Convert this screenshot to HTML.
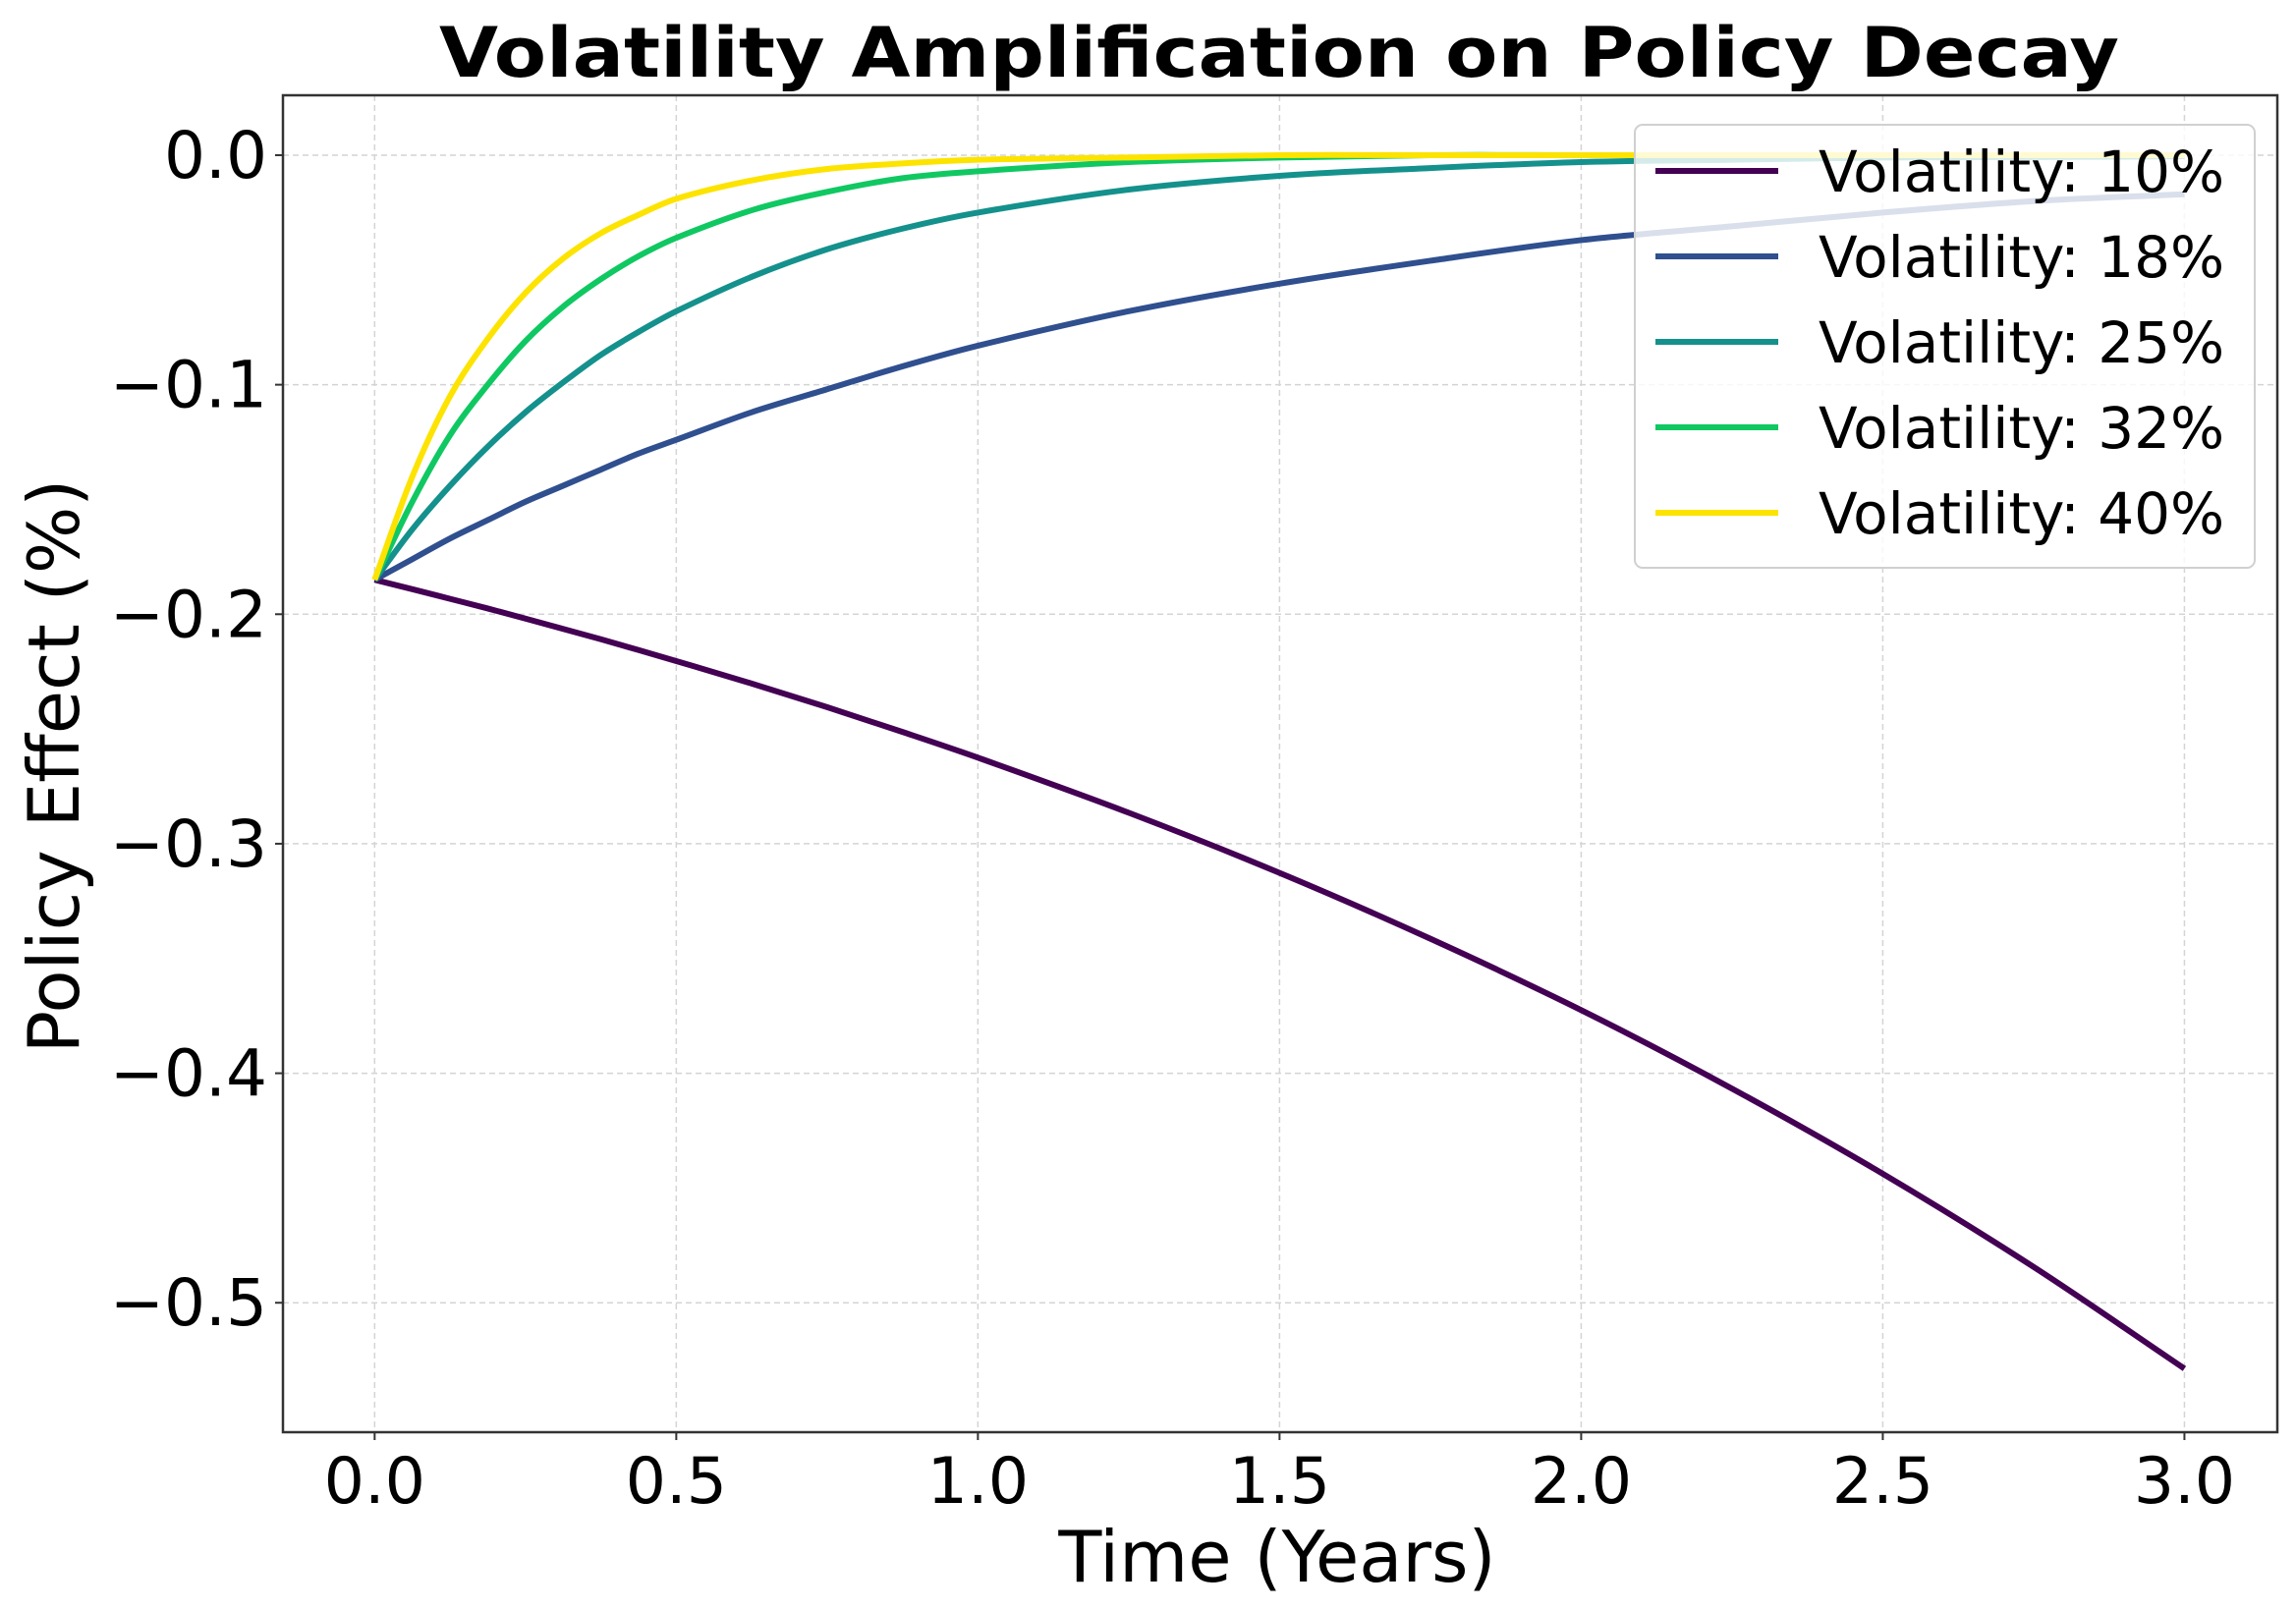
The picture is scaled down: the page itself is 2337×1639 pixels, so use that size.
<!DOCTYPE html>
<html><head><meta charset="utf-8"><style>
html,body{margin:0;padding:0;background:#fff;}
svg{display:block;font-family:"DejaVu Sans","Liberation Sans",sans-serif;}
</style></head><body>
<svg id="chart" width="2337" height="1639" viewBox="0 0 2337 1639" xmlns="http://www.w3.org/2000/svg">
<rect width="2337" height="1639" fill="#fff"/>
<text x="1302" y="78" text-anchor="middle" font-size="70" font-weight="bold" textLength="1710" lengthAdjust="spacingAndGlyphs">Volatility Amplification on Policy Decay</text>
<g id="grid"></g>
<g id="series"></g>
<rect x="288" y="97" width="2030" height="1361" fill="none" stroke="#333" stroke-width="2.5"/>
<g id="ticks"></g>
<text transform="translate(80,780) rotate(-90)" text-anchor="middle" font-size="72">Policy Effect (%)</text>
<text x="1300" y="1610" text-anchor="middle" font-size="72">Time (Years)</text>
<g id="legend"></g>
</svg>
<script>
const times = [0,0.0625,0.125,0.1875,0.25,0.3125,0.375,0.4375,0.5,0.625,0.75,0.875,1,1.25,1.5,1.75,2,2.25,2.5,2.75,3];
const vol10 = [-0.185,-0.1891,-0.1933,-0.1975,-0.2019,-0.2064,-0.2109,-0.2156,-0.2204,-0.2302,-0.2405,-0.2513,-0.2625,-0.2865,-0.3127,-0.3414,-0.3725,-0.4067,-0.4438,-0.4844,-0.5287];
const vol18 = [-0.185,-0.176,-0.167,-0.159,-0.151,-0.144,-0.137,-0.130,-0.124,-0.112,-0.102,-0.092,-0.083,-0.068,-0.056,-0.046,-0.037,-0.031,-0.025,-0.020,-0.017];
const vol25 = [-0.185,-0.163,-0.144,-0.127,-0.112,-0.099,-0.087,-0.077,-0.068,-0.053,-0.041,-0.032,-0.025,-0.015,-0.009,-0.0056,-0.003,-0.002,-0.001,-0.0008,-0.0005];
const vol32 = [-0.185,-0.151,-0.122,-0.100,-0.081,-0.066,-0.054,-0.044,-0.036,-0.024,-0.016,-0.010,-0.007,-0.003,-0.001,0,0,0,0,0,0];
const vol40 = [-0.185,-0.140,-0.105,-0.080,-0.060,-0.045,-0.034,-0.026,-0.019,-0.011,-0.006,-0.0036,-0.002,-0.001,0,0,0,0,0,0,0];
const seriesLabels = ["Volatility: 10%","Volatility: 18%","Volatility: 25%","Volatility: 32%","Volatility: 40%"];
const xTicks = [0,0.5,1,1.5,2,2.5,3];
const xTickLabels = ["0.0","0.5","1.0","1.5","2.0","2.5","3.0"];
const yTicks = [0,-0.1,-0.2,-0.3,-0.4,-0.5];
const yTickLabels = ["0.0","\u22120.1","\u22120.2","\u22120.3","\u22120.4","\u22120.5"];

const colors = ["#440154","#2f4f8f","#14918c","#10c862","#fde300"];
const NS="http://www.w3.org/2000/svg";
const X0=288,X1=2318,Y0=97,Y1=1458;
const xMin=-0.152,xMax=3.154,yMin=-0.5564,yMax=0.0261;
const xs=v=>X0+(v-xMin)/(xMax-xMin)*(X1-X0);
const ys=v=>Y1-(v-yMin)/(yMax-yMin)*(Y1-Y0);
function mk(tag,attrs,parent){const e=document.createElementNS(NS,tag);for(const k in attrs)e.setAttribute(k,attrs[k]);parent.appendChild(e);return e;}
const grid=document.getElementById('grid'),ticks=document.getElementById('ticks'),ser=document.getElementById('series'),leg=document.getElementById('legend');
xTicks.forEach((t,i)=>{
  const x=xs(t);
  const g=mk('line',{x1:x,x2:x,y1:Y0,y2:Y1,stroke:'#d4d4d4','stroke-width':1.5,'stroke-dasharray':'6,4'},grid);
  
  
  mk('line',{x1:x,x2:x,y1:Y1,y2:Y1+8,stroke:'#333','stroke-width':2},ticks);
  const tx=mk('text',{x:x,y:1530,'text-anchor':'middle','font-size':65},ticks);
  tx.textContent=xTickLabels[i];
  
  
});
yTicks.forEach((t,i)=>{
  const y=ys(t);
  const g=mk('line',{x1:X0,x2:X1,y1:y,y2:y,stroke:'#d4d4d4','stroke-width':1.5,'stroke-dasharray':'6,4'},grid);
  
  
  mk('line',{x1:X0-8,x2:X0,y1:y,y2:y,stroke:'#333','stroke-width':2},ticks);
  const tx=mk('text',{x:272,y:y+23,'text-anchor':'end','font-size':66},ticks);
  tx.textContent=yTickLabels[i];
  
  
});
function pathFor(vals){
  const p=times.map((t,i)=>[xs(t),ys(vals[i])]);
  let d=`M${p[0][0]},${p[0][1]}`;
  for(let i=0;i<p.length-1;i++){
    const a=p[Math.max(i-1,0)],b=p[i],c=p[i+1],e=p[Math.min(i+2,p.length-1)];
    const h=c[0]-b[0];
    const s1=(c[1]-a[1])/((c[0]-a[0])||1),s2=(e[1]-b[1])/((e[0]-b[0])||1);
    const c1=[b[0]+h/3,b[1]+s1*h/3],c2=[c[0]-h/3,c[1]-s2*h/3];
    d+=` C${c1[0]},${c1[1]} ${c2[0]},${c2[1]} ${c[0]},${c[1]}`;
  }
  return d;
}
[vol10,vol18,vol25,vol32,vol40].forEach((vals,i)=>{
  const p=mk('path',{d:pathFor(vals),fill:'none',stroke:colors[i],'stroke-width':6,'stroke-linejoin':'round'},ser);
  
  
});
const lb=mk('rect',{x:1664,y:127,width:631,height:451,rx:8,fill:'#fff','fill-opacity':0.82,stroke:'#d0d0d0','stroke-width':2},leg);


seriesLabels.forEach((s,i)=>{
  const y=174+i*87;
  const h=mk('line',{x1:1685,x2:1810,y1:y,y2:y,stroke:colors[i],'stroke-width':6},leg);
  
  
  const t=mk('text',{x:1851,y:y+21,'font-size':58},leg);
  t.textContent=s;
  
  
});
</script>
</body></html>
